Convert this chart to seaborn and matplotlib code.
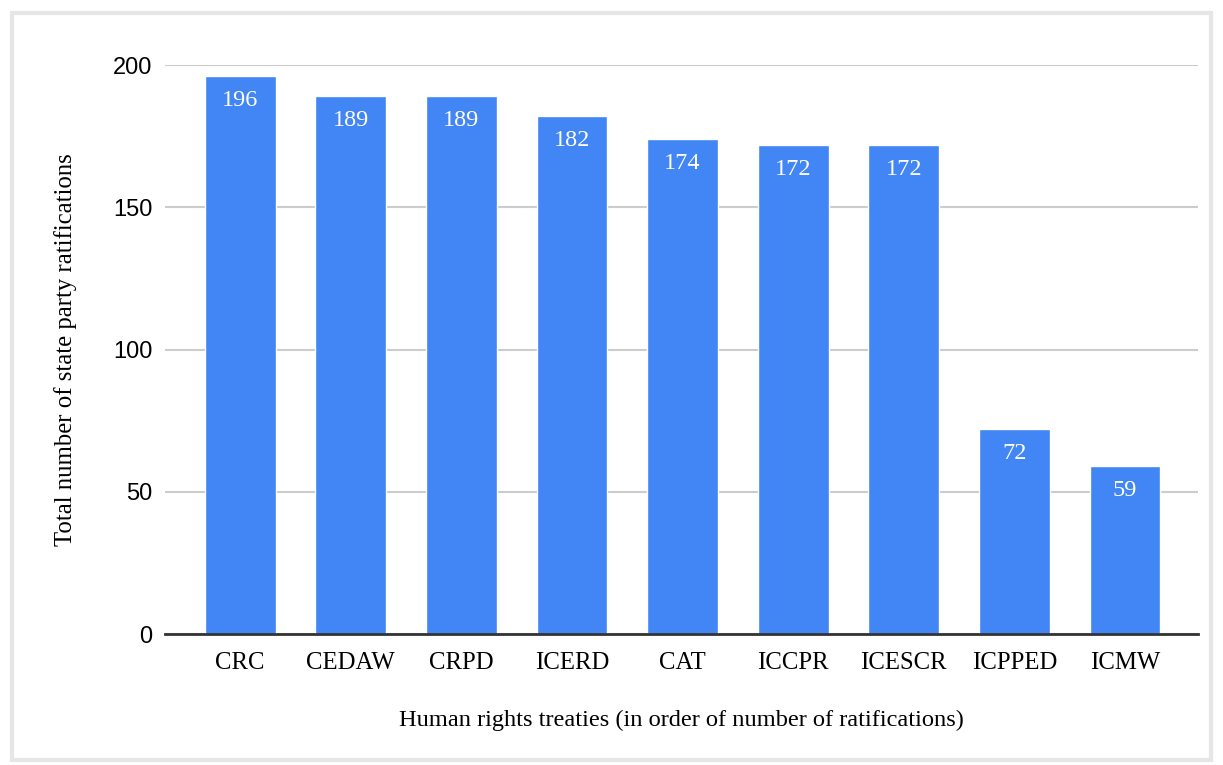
import matplotlib
matplotlib.use("Agg")
import matplotlib.pyplot as plt
import seaborn as sns
import pandas as pd
from matplotlib.patches import Rectangle

treaties = ["CRC", "CEDAW", "CRPD", "ICERD", "CAT", "ICCPR", "ICESCR", "ICPPED", "ICMW"]
ratifications = [196, 189, 189, 182, 174, 172, 172, 72, 59]
y_ticks = [0, 50, 100, 150, 200]

df = pd.DataFrame({"treaty": treaties, "n": ratifications})

sns.set_theme(style="white")
plt.rcParams["font.family"] = ["Liberation Serif", "DejaVu Serif"]

fig = plt.figure(figsize=(12.23, 7.65), dpi=100)
ax = fig.add_axes([0.1349, 0.1712, 0.8446, 0.7438])

sns.barplot(data=df, x="treaty", y="n", color="#4285F4", saturation=1,
            width=0.64, ax=ax, zorder=3)

# value labels inside the top of each bar
for i, v in enumerate(ratifications):
    ax.annotate(str(v), (i, v), xytext=(0, -10), textcoords="offset points",
                ha="center", va="top", color="white", fontsize=17.5,
                zorder=4)

ax.set_ylim(0, 200)
ax.set_xlim(-0.68, 8.66)
ax.set_yticks(y_ticks)
ax.set_yticklabels([str(t) for t in y_ticks], family=["Liberation Sans", "DejaVu Sans"])
ax.yaxis.grid(True, color="#cccccc", linewidth=1.5, zorder=0)
ax.set_axisbelow(True)
for s in ["top", "right", "left"]:
    ax.spines[s].set_visible(False)
ax.spines["bottom"].set_color("#333333")
ax.spines["bottom"].set_linewidth(2)
ax.spines["bottom"].set_zorder(5)
ax.tick_params(axis="y", length=0, pad=9, labelsize=17, labelcolor="black")
ax.tick_params(axis="x", length=0, pad=13, labelsize=17.8, labelcolor="black")

ax.set_xlabel("Human rights treaties (in order of number of ratifications)",
              fontsize=17.6, labelpad=26, color="black")
ax.set_ylabel("Total number of state party ratifications",
              fontsize=17.8, labelpad=26, color="black")

# light grey frame around the whole chart
fig.patches.append(Rectangle((0.0095, 0.0065), 0.981, 0.976, transform=fig.transFigure,
                             fill=False, edgecolor="#e6e6e6", linewidth=3))

fig.savefig("out.png", dpi=100, facecolor="white")
